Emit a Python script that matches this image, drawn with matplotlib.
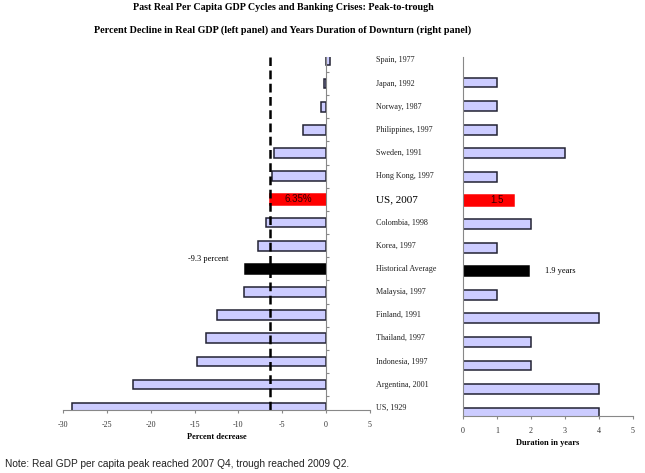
import numpy as np
import matplotlib
matplotlib.use("Agg")
import matplotlib.pyplot as plt
import matplotlib.transforms as mtransforms

plt.rcParams["axes.unicode_minus"] = False

countries = ["Spain, 1977", "Japan, 1992", "Norway, 1987", "Philippines, 1997",
             "Sweden, 1991", "Hong Kong, 1997", "US, 2007", "Colombia, 1998",
             "Korea, 1997", "Historical Average", "Malaysia, 1997", "Finland, 1991",
             "Thailand, 1997", "Indonesia, 1997", "Argentina, 2001", "US, 1929"]
decline = [0.4, -0.3, -0.6, -2.6, -6.0, -6.2, -6.35, -6.9,
           -7.8, -9.3, -9.35, -12.5, -13.7, -14.7, -22.0, -29.0]
duration = [0, 1, 1, 1, 3, 1, 1.5, 2, 1, 1.95, 1, 4, 2, 2, 4, 4]
us_idx = 6
avg_idx = 9
us_label = "6.35%"
us_dur_label = "1.5"
avg_label = "-9.3 percent"
avg_dur_label = "1.9 years"

W, H = 645, 473
fig = plt.figure(figsize=(W / 100, H / 100), dpi=100)

def px_axes(x0, y0, x1, y1):
    return fig.add_axes([x0 / W, 1 - y1 / H, (x1 - x0) / W, (y1 - y0) / H])

lav = "#CCCCFF"
edge = "#222233"
grey = "#888888"
serif = "Liberation Serif"

def colours(n):
    fc = [lav] * n
    ec = [edge] * n
    hh = [0.42] * n
    fc[us_idx] = "#FF0000"; ec[us_idx] = "#FF0000"; hh[us_idx] = 0.5
    fc[avg_idx] = "black"; ec[avg_idx] = "black"; hh[avg_idx] = 0.45
    return fc, ec, hh

y = np.arange(len(countries))
fc, ec, hh = colours(len(countries))

# left panel: percent decline
ax1 = px_axes(63, 57, 370, 410)
ax1.barh(y, decline, height=hh, color=fc, edgecolor=ec, linewidth=1.1)
ax1.set_xlim(-30, 5)
ax1.set_ylim(15.1, -0.15)
ax1.axvline(decline[us_idx], color="black", lw=1.8, ls=(0, (3.5, 1.8)))
for s in ["left", "top"]:
    ax1.spines[s].set_visible(False)
ax1.spines["right"].set_position(("data", 0))
ax1.spines["right"].set_color(grey)
ax1.spines["bottom"].set_color(grey)
ax1.yaxis.tick_right()
ax1.set_yticks(np.arange(0.5, 15, 1))
ax1.set_yticklabels([])
ax1.tick_params(axis="y", length=2, color=grey, direction="out")
ax1.set_xticks(np.arange(-30, 6, 5))
ax1.tick_params(axis="x", length=2, color=grey, labelsize=5.8, labelcolor="#333333", pad=6)
for lab in ax1.get_xticklabels():
    lab.set_fontfamily(serif)
ax1.set_xlabel("Percent decrease", fontfamily=serif, fontweight="bold", fontsize=6, labelpad=3)
ax1.text(decline[us_idx] / 2, us_idx, us_label, ha="center", va="center",
         fontsize=7, color="#330000", fontfamily="Liberation Sans")
ax1.text(-13.4, avg_idx - 0.25, avg_label, ha="center", va="bottom",
         fontsize=6, fontfamily=serif)

# right panel: duration
ax2 = px_axes(463, 57, 633, 416)
ax2.barh(y, duration, height=hh, color=fc, edgecolor=ec, linewidth=1.1)
ax2.set_xlim(0, 5)
ax2.set_ylim(15.14, -0.08)
for s in ["right", "top"]:
    ax2.spines[s].set_visible(False)
ax2.spines["left"].set_color(grey)
ax2.spines["bottom"].set_color(grey)
ax2.set_yticks([])
ax2.set_xticks(np.arange(0, 6, 1))
ax2.tick_params(axis="x", length=2, color=grey, labelsize=5.8, labelcolor="#333333", pad=6)
for lab in ax2.get_xticklabels():
    lab.set_fontfamily(serif)
ax2.set_xlabel("Duration in years", fontfamily=serif, fontweight="bold", fontsize=6, labelpad=3)
ax2.text(duration[us_idx] / 2 + 0.25, us_idx, us_dur_label, ha="center", va="center",
         fontsize=7, color="#330000", fontfamily="Liberation Sans")
ax2.text(2.4, avg_idx, avg_dur_label, ha="left", va="center",
         fontsize=6, fontfamily=serif)

# country labels between the panels
tr = mtransforms.blended_transform_factory(fig.transFigure, ax1.transData)
for i, name in enumerate(countries):
    big = i == us_idx
    ax1.text(376 / W, i, name, transform=tr, ha="left", va="center",
             fontsize=8 if big else 5.9, fontfamily=serif, color="black" if big else "#222222",
             clip_on=False)

fig.text(283 / W, 1 - 8 / H, "Past Real Per Capita GDP Cycles and Banking Crises: Peak-to-trough",
         ha="center", va="center", fontsize=7.2, fontweight="bold", fontfamily=serif)
fig.text(283 / W, 1 - 30 / H, "Percent Decline in Real GDP (left panel) and Years Duration of Downturn (right panel)",
         ha="center", va="center", fontsize=7.3, fontweight="bold", fontfamily=serif)
fig.text(5 / W, 1 - 464 / H, "Note: Real GDP per capita peak reached 2007 Q4, trough reached 2009 Q2.",
         ha="left", va="center", fontsize=7.3, fontfamily="Liberation Sans", color="#222222")

fig.savefig("out.png", dpi=100)
